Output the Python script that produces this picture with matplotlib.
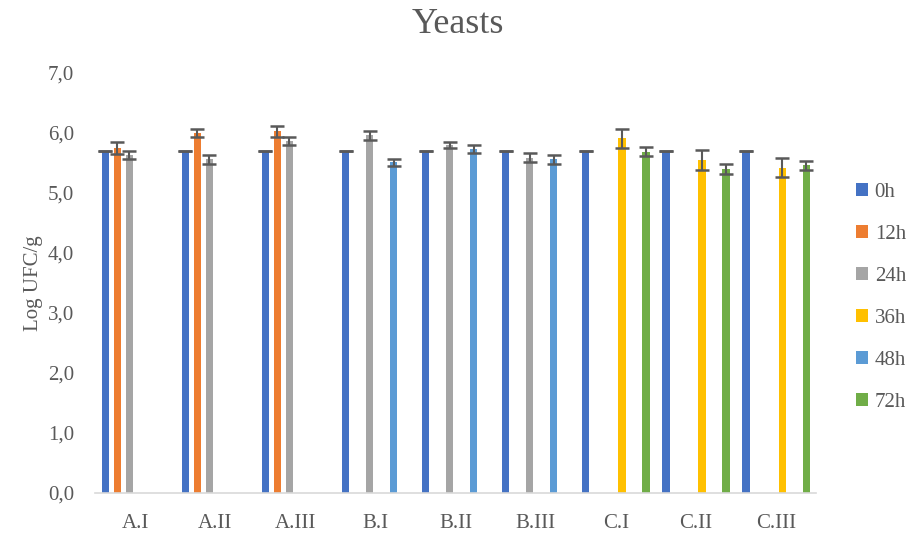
import numpy as np
import matplotlib.pyplot as plt
from matplotlib.patches import Patch
from matplotlib.ticker import FuncFormatter

plt.rcParams['font.family'] = ['Liberation Serif', 'DejaVu Serif']

# -----------------------
# Data (Log UFC/g), nan = not measured
# -----------------------
categories = ['A.I', 'A.II', 'A.III', 'B.I', 'B.II', 'B.III', 'C.I', 'C.II', 'C.III']
series = ['0h', '12h', '24h', '36h', '48h', '72h']
colors = ['#4472C4', '#ED7D31', '#A5A5A5', '#FFC000', '#5B9BD5', '#70AD47']

nan = np.nan
v_0h  = [5.70, 5.70, 5.70, 5.70, 5.70, 5.70, 5.70, 5.70, 5.70]
v_12h = [5.75, 6.00, 6.03, nan, nan, nan, nan, nan, nan]
v_24h = [5.63, 5.56, 5.87, 5.96, 5.80, 5.59, nan, nan, nan]
v_36h = [nan, nan, nan, nan, nan, nan, 5.91, 5.55, 5.42]
v_48h = [nan, nan, nan, 5.51, 5.73, 5.56, nan, nan, nan]
v_72h = [nan, nan, nan, nan, nan, nan, 5.69, 5.40, 5.46]

e_0h  = [0.0, 0.0, 0.0, 0.0, 0.0, 0.0, 0.0, 0.0, 0.0]
e_12h = [0.095, 0.07, 0.095, nan, nan, nan, nan, nan, nan]
e_24h = [0.07, 0.07, 0.07, 0.07, 0.045, 0.07, nan, nan, nan]
e_36h = [nan, nan, nan, nan, nan, nan, 0.155, 0.16, 0.16]
e_48h = [nan, nan, nan, 0.065, 0.07, 0.07, nan, nan, nan]
e_72h = [nan, nan, nan, nan, nan, nan, 0.07, 0.09, 0.07]

values = [v_0h, v_12h, v_24h, v_36h, v_48h, v_72h]
errors = [e_0h, e_12h, e_24h, e_36h, e_48h, e_72h]

# -----------------------
# Plot
# -----------------------
fig = plt.figure(figsize=(9.15, 5.35), dpi=100)
ax = fig.add_axes([0.104, 0.0785, 0.788, 0.785])

x = np.arange(len(categories))
slot = 0.15
width = 0.09
text_col = '#595959'

for j, (vals, errs) in enumerate(zip(values, errors)):
    vals = np.array(vals)
    errs = np.array(errs)
    mask = ~np.isnan(vals)
    xpos = x[mask] + (j - 2.5) * slot
    ax.bar(xpos, vals[mask], width=width, color=colors[j], zorder=2)
    ax.errorbar(xpos, vals[mask], yerr=errs[mask], fmt='none', ecolor='#595959',
                elinewidth=1.5, capsize=5, capthick=1.8, zorder=3)

ax.set_xlim(-0.5, len(categories) - 0.5)
ax.set_ylim(0, 7)
ax.set_yticks(np.arange(0, 8, 1))
ax.yaxis.set_major_formatter(FuncFormatter(lambda v, p: f'{v:.1f}'.replace('.', ',')))
ax.set_xticks(x)
ax.set_xticklabels(categories)
ax.tick_params(axis='both', length=0, labelsize=15, colors=text_col)
ax.tick_params(axis='x', pad=15)
ax.tick_params(axis='y', pad=15)

for s in ['top', 'right', 'left']:
    ax.spines[s].set_visible(False)
ax.spines['bottom'].set_color('#D9D9D9')
ax.spines['bottom'].set_linewidth(1.2)

ax.set_ylabel('Log UFC/g', fontsize=15, color=text_col, labelpad=4)
fig.suptitle('Yeasts', fontsize=26, color=text_col, x=0.5, y=0.985)

handles = [Patch(facecolor=c, label=s) for c, s in zip(colors, series)]
fig.legend(handles=handles, loc='center left', bbox_to_anchor=(0.915, 0.444),
           frameon=False, fontsize=15, labelcolor=text_col, handlelength=0.6,
           handleheight=0.6, handletextpad=0.3, labelspacing=1.1)

fig.savefig('out.png', dpi=100)
